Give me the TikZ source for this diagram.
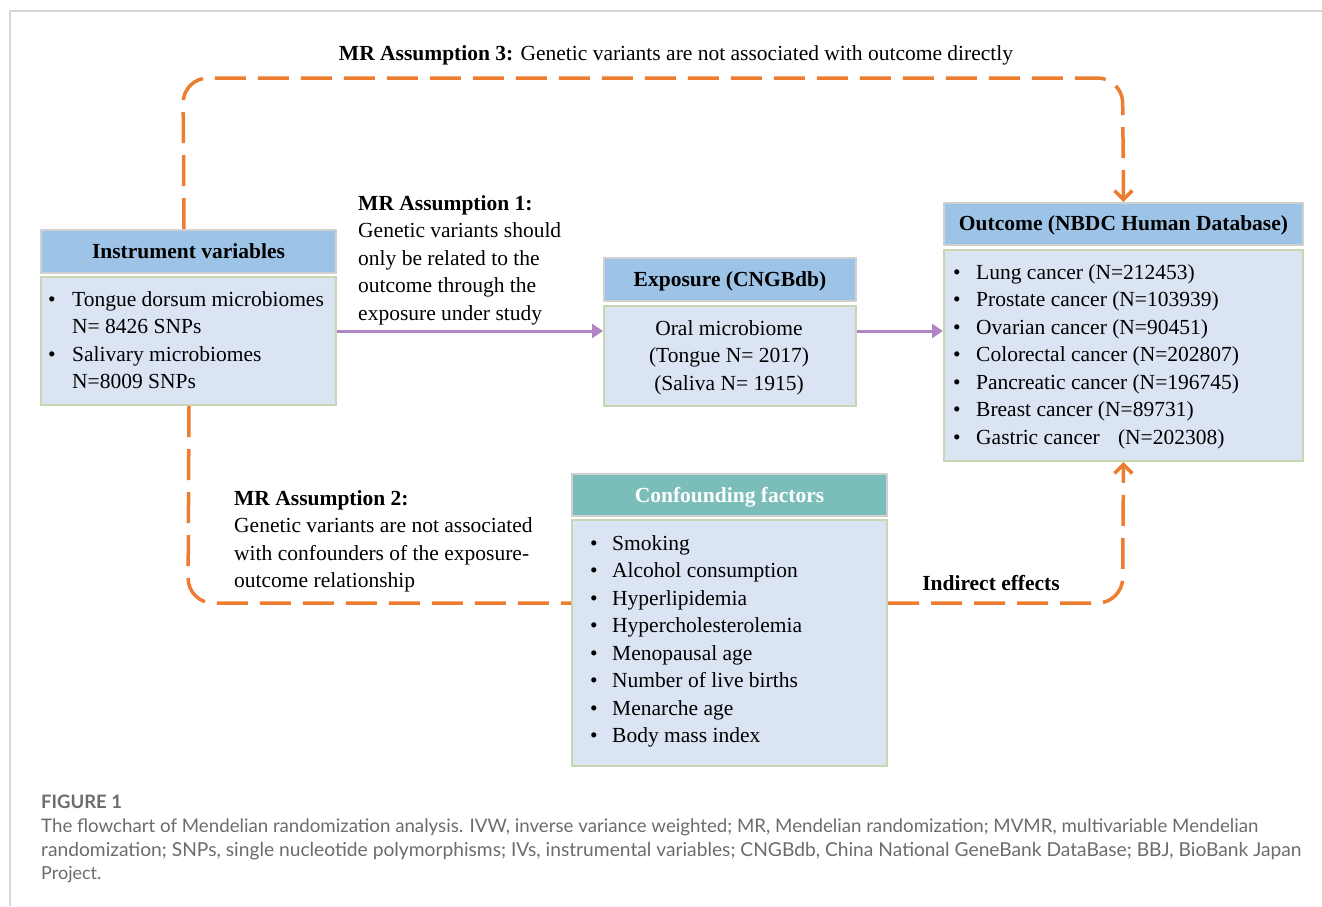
\documentclass[tikz,border=0pt]{standalone}
\usepackage{fontspec}
\setmainfont{Liberation Serif}
\newfontfamily\capfont{Lato}
\usetikzlibrary{arrows.meta}
\definecolor{hdrblue}{RGB}{157,195,230}
\definecolor{bodyblue}{RGB}{219,228,243}
\definecolor{bodyborder}{RGB}{200,214,178}
\definecolor{hdrborder}{RGB}{208,208,208}
\definecolor{tealhdr}{RGB}{122,189,185}
\definecolor{orng}{RGB}{237,125,49}
\definecolor{purp}{RGB}{176,135,196}
\definecolor{capgray}{RGB}{108,108,108}
\definecolor{framegray}{RGB}{214,214,214}
\newcommand{\bul}[1]{\makebox[#1][l]{•}}
\begin{document}
\begin{tikzpicture}[x=1pt,y=-1pt,
  hdr/.style={draw=hdrborder, fill=hdrblue, line width=2pt, inner sep=0pt, anchor=north west,
    text depth=1pt, font=\bfseries\fontsize{21.5}{27.5}\selectfont},
  body/.style={draw=bodyborder, fill=bodyblue, line width=2pt, inner sep=0pt, anchor=north west},
  txt/.style={inner sep=0pt, font=\fontsize{21.5}{27.5}\selectfont, align=left},
  odash/.style={draw=orng, line width=3.5pt, dash pattern=on 31pt off 12pt, rounded corners=25pt},
  oarrow/.style={-{Straight Barb[length=9pt,width=18pt,line width=3.5pt]}},
  parrow/.style={draw=purp, line width=3pt, -{Triangle[length=11pt,width=14pt]}},
  captext/.style={inner sep=0pt, anchor=west, text=capgray, font=\capfont\fontsize{18}{22}\selectfont}
]
\useasboundingbox (0,0) rectangle (1322,906);
\fill[white] (0,0) rectangle (1322,906);
\draw[framegray, line width=1.5pt] (10,906) -- (10,11) -- (1322,11);

% boxes
\node[hdr, minimum width=295, minimum height=43] (ivh) at (40,229) {Instrument variables};
\node[body, minimum width=295, minimum height=128] (ivb) at (40,276) {};
\node[hdr, minimum width=252, minimum height=43] (exh) at (603,257) {Exposure (CNGBdb)};
\node[body, minimum width=252, minimum height=100] (exb) at (603,305) {};
\node[hdr, minimum width=359, minimum height=42] (ouh) at (943,202) {Outcome (NBDC Human Database)};
\node[body, minimum width=359, minimum height=211] (oub) at (943,249) {};
\node[hdr, fill=tealhdr, text=white, minimum width=315, minimum height=42] (cfh) at (571,473) {Confounding factors};
\node[body, minimum width=315, minimum height=246] (cfb) at (571,519) {};

% box texts
\node[txt, anchor=north west] (ivt) at (48,287) {\strut\bul{24pt}Tongue dorsum microbiomes\\
\hspace*{24pt}N= 8426 SNPs\\
\bul{24pt}Salivary microbiomes\\
\hspace*{24pt}N=8009 SNPs};
\node[txt, anchor=north, align=center] (ext) at (729,316) {\strut Oral microbiome\\(Tongue N= 2017)\\(Saliva N= 1915)};
\node[txt, anchor=north west] (out) at (953,260) {\strut\bul{23pt}Lung cancer (N=212453)\\
\bul{23pt}Prostate cancer (N=103939)\\
\bul{23pt}Ovarian cancer (N=90451)\\
\bul{23pt}Colorectal cancer (N=202807)\\
\bul{23pt}Pancreatic cancer (N=196745)\\
\bul{23pt}Breast cancer (N=89731)\\
\bul{23pt}Gastric cancer\hspace{0.6em} (N=202308)};
\node[txt, anchor=north west] (cft) at (590,531) {\strut\bul{22pt}Smoking\\
\bul{22pt}Alcohol consumption\\
\bul{22pt}Hyperlipidemia\\
\bul{22pt}Hypercholesterolemia\\
\bul{22pt}Menopausal age\\
\bul{22pt}Number of live births\\
\bul{22pt}Menarche age\\
\bul{22pt}Body mass index};

% labels
\node[txt] (a3) at (676,55) {\textbf{MR Assumption 3:} Genetic variants are not associated with outcome directly};
\node[txt, anchor=north west] (a1) at (358,191) {\strut\textbf{MR Assumption 1:}\\Genetic variants should\\only be related to the\\outcome through the\\exposure under study};
\node[txt, anchor=north west] (a2) at (234,486) {\strut\textbf{MR Assumption 2:}\\Genetic variants are not associated\\with confounders of the exposure-\\outcome relationship};
\node[txt, font=\bfseries\fontsize{21.5}{27.5}\selectfont] (ind) at (991,583) {Indirect effects};

% connectors
\draw[parrow] ([yshift=10pt]ivb.east) -- ([yshift=25pt]exb.west);
\draw[parrow] ([yshift=25pt]exb.east) -- ([yshift=24.5pt]oub.west);
\draw[odash, oarrow] ([xshift=-4.5pt]ivh.north) -- (183,78) -- (1122.5,78) -- (ouh.north);
\draw[odash] ([xshift=0.5pt]ivb.south) -- (188,603) -- (cfb.west |- 0,603);
\draw[odash, oarrow] (cfb.east |- 0,603) -- (1122.5,603) -- (oub.south);

% caption
\node[captext, font=\capfont\fontsize{18.5}{22}\selectfont\bfseries] (fig) at (41,802) {FIGURE 1};
\node[captext] (c1) at (41,827) {\resizebox{1217pt}{!}{The flowchart of Mendelian randomization analysis. IVW, inverse variance weighted; MR, Mendelian randomization; MVMR, multivariable Mendelian}};
\node[captext] (c2) at (41,851) {\resizebox{1260pt}{!}{randomization; SNPs, single nucleotide polymorphisms; IVs, instrumental variables; CNGBdb, China National GeneBank DataBase; BBJ, BioBank Japan}};
\node[captext] (c3) at (41,875) {Project.};
\end{tikzpicture}
\end{document}
